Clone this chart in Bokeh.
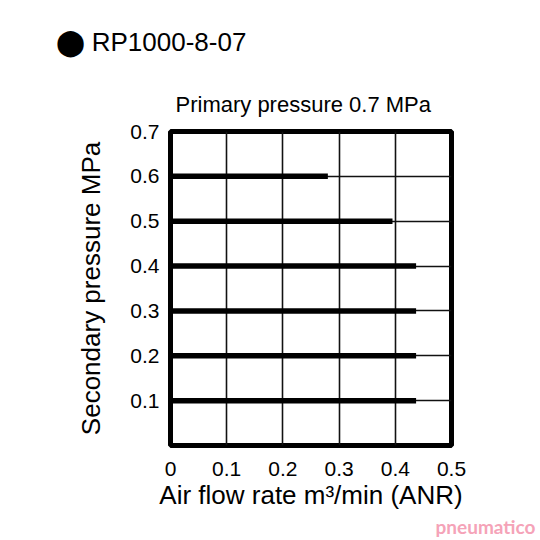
from bokeh.plotting import figure
from bokeh.models import FixedTicker, Title
from bokeh.embed import file_html
from bokeh.resources import INLINE

# data
pressures = [0.6, 0.5, 0.4, 0.3, 0.2, 0.1]
flow_end = [0.28, 0.395, 0.437, 0.437, 0.437, 0.437]
x_ticks = [0, 0.1, 0.2, 0.3, 0.4, 0.5]
y_ticks = [0.1, 0.2, 0.3, 0.4, 0.5, 0.6, 0.7]

FONT = "Liberation Sans"

p = figure(width=540, height=540, output_backend="svg", toolbar_location=None,
           x_range=(0, 0.5), y_range=(0, 0.7),
           min_border_left=170, min_border_right=89,
           min_border_top=131, min_border_bottom=95)
p.outline_line_color = "black"
p.outline_line_width = 5
p.background_fill_color = "white"
p.border_fill_color = "white"

for ax in (p.xaxis[0], p.yaxis[0]):
    ax.axis_line_color = None
    ax.major_tick_line_color = None
    ax.minor_tick_line_color = None
    ax.major_label_text_font = FONT
    ax.major_label_text_font_size = "21px"
    ax.major_label_text_color = "black"
    ax.axis_label_text_font = FONT
    ax.axis_label_text_font_size = "26px"
    ax.axis_label_text_font_style = "normal"
    ax.axis_label_text_color = "black"

p.xaxis.ticker = FixedTicker(ticks=x_ticks)
p.yaxis.ticker = FixedTicker(ticks=y_ticks)
p.xaxis.major_label_overrides = {0: "0"}
p.xaxis.axis_label = "Air flow rate m³/min (ANR)"
p.yaxis.axis_label = "Secondary pressure MPa"
p.xaxis.major_label_standoff = 10
p.xaxis.axis_label_standoff = 1
p.yaxis.major_label_standoff = 5
p.yaxis.axis_label_standoff = 21

p.xgrid.ticker = FixedTicker(ticks=[0.1, 0.2, 0.3, 0.4])
p.ygrid.ticker = FixedTicker(ticks=[0.1, 0.2, 0.3, 0.4, 0.5, 0.6])
for g in (p.xgrid[0], p.ygrid[0]):
    g.grid_line_color = "#111111"
    g.grid_line_width = 1.6

for y, xe in zip(pressures, flow_end):
    p.line([0, xe], [y, y], line_color="black", line_width=5.5, line_cap="butt")

# subtitle (closest to the frame), then header further out
p.add_layout(Title(text="Primary pressure 0.7 MPa", text_font=FONT,
                   text_font_size="22px", text_font_style="normal",
                   text_color="black", align="left", offset=5, standoff=29), "above")
p.add_layout(Title(text="⬤ RP1000-8-07", text_font=FONT,
                   text_font_size="26px", text_font_style="normal",
                   text_line_height=0.6,
                   text_color="black", align="left", offset=-115, standoff=37), "above")
# watermark
p.add_layout(Title(text="pneumatico", text_font="Lato",
                   text_font_size="19px", text_font_style="bold",
                   text_color="#f5a3b8", align="right", offset=-84,
                   standoff=0), "below")

out = file_html(p, INLINE)
open("out.html", "w").write(out)
